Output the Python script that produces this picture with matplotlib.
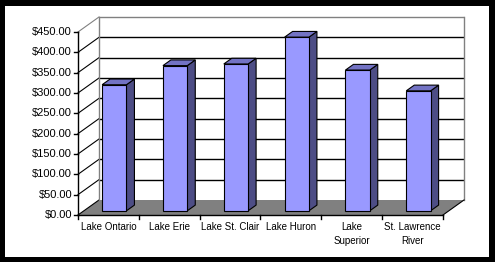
import matplotlib
matplotlib.use("Agg")
import matplotlib.pyplot as plt
from matplotlib.patches import Polygon, Rectangle

categories = ["Lake Ontario", "Lake Erie", "Lake St. Clair", "Lake Huron",
              "Lake\nSuperior", "St. Lawrence\nRiver"]
values = [310, 357, 361, 427, 346, 295]
yticks = [0, 50, 100, 150, 200, 250, 300, 350, 400, 450]
ytick_labels = ["$%.2f" % v for v in yticks]

W, H = 495, 262
fig = plt.figure(figsize=(W / 100, H / 100), dpi=100)
fig.patch.set_facecolor("black")

ax = fig.add_axes([0, 0, 1, 1])
ax.set_facecolor("none")
ax.axis("off")
ax.add_patch(Rectangle((5 / W, 5 / H), (489 - 5) / W, (257 - 6) / H,
                       transform=fig.transFigure, facecolor="white",
                       edgecolor="none", zorder=0))
# pixel mapping: x_px = 78 + 60.83*x ; y_px(from top) = 215 - 0.4067*v
sx, x0px = 60.83, 78.0
sy, y0px = 0.4067, 215.0
ax.set_xlim(-x0px / sx, (W - x0px) / sx)
ax.set_ylim((y0px - H) / sy, y0px / sy)

n = len(categories)
vmax = yticks[-1]
DX = 21 / sx
DY = 15 / sy

# back wall
ax.add_patch(Polygon([(DX, DY), (n + DX, DY), (n + DX, vmax + DY), (DX, vmax + DY)],
                     closed=True, facecolor="white", edgecolor="none", zorder=1))
# floor
ax.add_patch(Polygon([(0, 0), (n, 0), (n + DX, DY), (DX, DY)], closed=True,
                     facecolor="#808080", edgecolor="none", zorder=2))
# gridlines on back wall and left wall
for v in yticks:
    col = "#808080" if v == vmax else "black"
    if v > 0:
        ax.plot([DX, n + DX], [v + DY, v + DY], color=col, lw=1.0, zorder=2,
                solid_capstyle="butt")
    ax.plot([0, DX], [v, v + DY], color=col, lw=0.8, zorder=2)
# wall edges
ax.plot([DX, DX], [DY, vmax + DY], color="#808080", lw=1.0, zorder=2)
ax.plot([n + DX, n + DX], [DY, vmax + DY], color="#808080", lw=1.0, zorder=2)
# floor right edge
ax.plot([n, n + DX], [0, DY], color="black", lw=0.8, zorder=3)

# front value axis
ax.plot([0, 0], [0, vmax], color="black", lw=1.0, zorder=3)
for v, lab in zip(yticks, ytick_labels):
    ax.plot([-4 / sx, 0], [v, v], color="black", lw=1.0, zorder=3)
    ax.text(-6 / sx, v, lab, ha="right", va="center", fontsize=8,
            family="Liberation Sans", color="black")

# category axis
ax.plot([0, n], [0, 0], color="black", lw=1.0, zorder=3)
for i in range(n + 1):
    ax.plot([i, i], [0, -4 / sy], color="black", lw=1.0, zorder=3)
for i, lab in enumerate(categories):
    ax.text(i + 0.5, -6.5 / sy, lab, ha="center", va="top", fontsize=7,
            family="Liberation Sans", color="black", linespacing=1.5)

# bars
df, db = 0.28, 0.66
bw = 0.4
front_c, top_c, side_c = "#9999FF", "#7373C4", "#4D4D85"
for i, v in enumerate(values):
    xa = i + 0.5 - bw / 2 + df * DX
    xb = xa + bw
    fy = df * DY
    ddx = (db - df) * DX
    ddy = (db - df) * DY
    ax.add_patch(Polygon([(xb, fy), (xb + ddx, fy + ddy), (xb + ddx, v + fy + ddy),
                          (xb, v + fy)], closed=True, facecolor=side_c,
                         edgecolor="black", lw=0.8, zorder=5))
    ax.add_patch(Polygon([(xa, v + fy), (xb, v + fy), (xb + ddx, v + fy + ddy),
                          (xa + ddx, v + fy + ddy)], closed=True, facecolor=top_c,
                         edgecolor="black", lw=0.8, zorder=5))
    ax.add_patch(Polygon([(xa, fy), (xb, fy), (xb, v + fy), (xa, v + fy)],
                         closed=True, facecolor=front_c, edgecolor="black",
                         lw=0.8, zorder=6))

fig.savefig("out.png", dpi=100, facecolor=fig.get_facecolor())
